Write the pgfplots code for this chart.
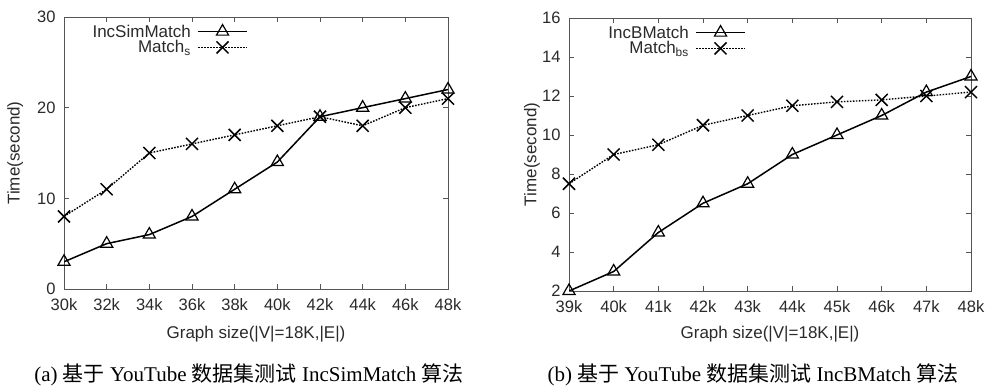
\documentclass[border=0pt]{standalone}
\usepackage{pgfplots}
\pgfplotsset{compat=1.18}
\usepackage{fontspec}
\setmainfont{Liberation Sans}
\newfontfamily\seriffont{Liberation Serif}
\newfontfamily\cjk{Noto Sans CJK SC}
\definecolor{axisgray}{HTML}{555555}
\definecolor{textgray}{HTML}{2A2A2A}

\pgfplotsset{
  gnu/.style={
    scale only axis,
    anchor=south west,
    xmin=0, xmax=9,
    xtick={0,...,9},
    tick align=inside,
    major tick length=5bp,
    axis line style={axisgray, line width=0.9bp},
    every tick/.style={axisgray, line width=0.8bp},
    /pgf/number format/assume math mode=true,
    tick label style={font=\fontsize{16.5bp}{18bp}\selectfont, text=textgray},
    yticklabel style={xshift=-5bp},
    xticklabel style={yshift=-6bp},
    label style={font=\fontsize{17bp}{19bp}\selectfont, text=textgray},
    legend plot pos=right,
    legend cell align=right,
    legend style={draw=none, fill=none, inner sep=0pt, row sep=-1bp,
      column sep=5bp,
      font=\fontsize{17bp}{19bp}\selectfont, text=textgray,
      nodes={inner sep=1.5bp}},
    legend image code/.code={
      \draw[mark repeat=2, mark phase=2] plot coordinates {(0bp,0bp)(24.5bp,0bp)(49bp,0bp)};
    },
  },
  tri/.style={black, line width=1.5bp, solid, mark=triangle, mark size=7bp,
    mark options={solid, fill=white, line width=1.2bp}},
  crs/.style={black, line width=1.4bp, dash pattern=on 1.6bp off 1.4bp, mark=x, mark size=8.5bp,
    mark options={solid, line width=1.5bp}},
}

\begin{document}
\begin{tikzpicture}
\path[use as bounding box] (0,0) rectangle (989bp,391bp);

\begin{axis}[gnu,
  at={(64bp,102bp)}, width=384bp, height=272bp,
  ymin=0, ymax=30, ytick={0,10,20,30},
  xticklabels={30k,32k,34k,36k,38k,40k,42k,44k,46k,48k},
  xlabel={Graph size(|V|=18K,|E|)},
  ylabel={Time(second)},
  xlabel style={at={(axis description cs:0.5,-0.165)}, anchor=center},
  ylabel style={at={(axis description cs:-0.127,0.5)}, anchor=center, rotate=0},
  legend style={at={(184bp,266bp)}, anchor=north east},
]
\addplot[tri] coordinates {(0,3)(1,5)(2,6)(3,8)(4,11)(5,14)(6,19)(7,20)(8,21)(9,22)};
\addlegendentry{IncSimMatch}
\addplot[crs] coordinates {(0,8)(1,11)(2,15)(3,16)(4,17)(5,18)(6,19)(7,18)(8,20)(9,21)};
\addlegendentry{Match\textsubscript{s}}
\end{axis}

\begin{axis}[gnu,
  at={(569bp,100bp)}, width=402bp, height=273bp,
  ymin=2, ymax=16, ytick={2,4,...,16},
  xticklabels={39k,40k,41k,42k,43k,44k,45k,46k,47k,48k},
  xlabel={Graph size(|V|=18K,|E|)},
  ylabel={Time(second)},
  xlabel style={at={(axis description cs:0.5,-0.159)}, anchor=center},
  ylabel style={at={(axis description cs:-0.092,0.5)}, anchor=center, rotate=0},
  legend style={at={(177bp,267bp)}, anchor=north east},
]
\addplot[tri] coordinates {(0,2)(1,3)(2,5)(3,6.5)(4,7.5)(5,9)(6,10)(7,11)(8,12.2)(9,13)};
\addlegendentry{IncBMatch}
\addplot[crs] coordinates {(0,7.5)(1,9)(2,9.5)(3,10.5)(4,11)(5,11.5)(6,11.7)(7,11.8)(8,12)(9,12.2)};
\addlegendentry{Match\textsubscript{bs}}
\end{axis}

\node[font=\fontsize{21bp}{23bp}\seriffont, anchor=center] at (249bp,16bp)
  {(a) {\cjk 基于} YouTube {\cjk 数据集测试} IncSimMatch {\cjk 算法}};
\node[font=\fontsize{21bp}{23bp}\seriffont, anchor=center] at (753bp,16bp)
  {(b) {\cjk 基于} YouTube {\cjk 数据集测试} IncBMatch {\cjk 算法}};
\end{tikzpicture}
\end{document}
